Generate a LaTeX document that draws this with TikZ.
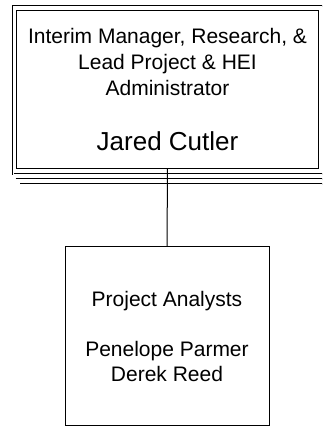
\documentclass[tikz,border=0pt]{standalone}
\usepackage{fontspec}
\setmainfont{Liberation Sans}
\tikzset{
  frame/.style={draw, double, double distance=1pt, line width=0.9pt, fill=white},
  box/.style={draw, line width=1pt, fill=white, align=center}
}
\begin{document}
\begin{tikzpicture}[x=1pt, y=-1pt]

  % picture size
  \useasboundingbox (0,0) rectangle (322,426);
  \clip (0,0) rectangle (322,426);

  % stacked edges behind the head box
  \foreach \s in {1,2}
    \draw[frame] (11+4.5*\s, 174+5*\s) -- (340, 174+5*\s);
  % front frame
  \draw[frame] (13,6) rectangle (330,174);

  % head box
  \node[box, anchor=north west, minimum width=302pt, minimum height=158pt,
        font=\fontsize{21}{26}\selectfont] (head) at (16,10)
    {Interim Manager, Research, \&\\Lead Project \& HEI\\Administrator\\[29pt]
     {\fontsize{26}{30}\selectfont Jared Cutler}};

  % staff box
  \node[box, anchor=north, minimum width=204pt, minimum height=179pt,
        font=\fontsize{21}{25}\selectfont] (staff) at (167,246)
    {Project Analysts\\[25pt]Penelope Parmer\\Derek Reed};

  % connector
  \draw[line width=1pt] (head.south) -- (staff.north);

\end{tikzpicture}
\end{document}
